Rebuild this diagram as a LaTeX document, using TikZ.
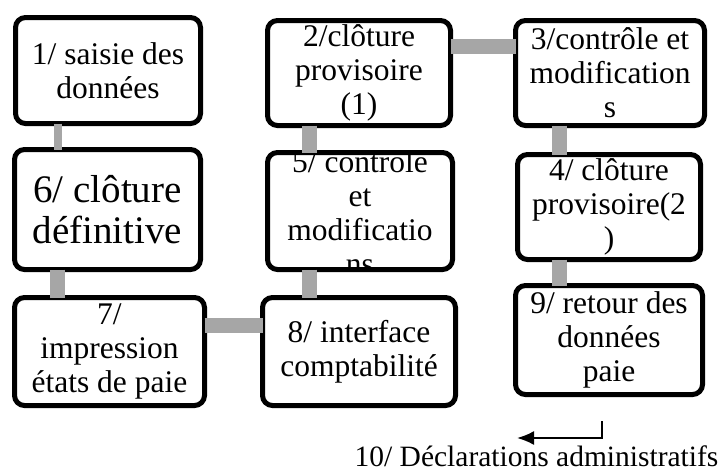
\documentclass[tikz,border=0pt]{standalone}
\usepackage{fontspec}
\setmainfont{Liberation Serif}
\usetikzlibrary{arrows.meta}
\definecolor{linkgray}{HTML}{A6A6A6}
\tikzset{
  stepbox/.style={draw=black, line width=5pt, rounded corners=10pt, fill=white,
    inner sep=0pt, outer sep=0pt, align=center,
    font=\fontsize{31.5}{34}\selectfont},
  link/.style={draw=linkgray, line width=15pt},
  thinlink/.style={draw=linkgray, line width=8pt},
  flow/.style={draw=black, line width=2pt, -{Latex[length=17pt,width=14pt]}},
}
% place a box from its corner coordinates (x1,y1) (x2,y2)
\newcommand\boxat[6]{%
  \node[stepbox, minimum width={#4-#2}, minimum height={#5-#3}, #6]
    (#1) at ({(#2+#4)/2},{(#3+#5)/2})}
\begin{document}
\begin{tikzpicture}[x=1pt, y=-1pt]
\useasboundingbox (0,0) rectangle (721,475);

% columns and rows used by the links
\coordinate (cA) at (57.5,0);
\coordinate (cB) at (309.5,0);
\coordinate (cC) at (559.5,0);
\coordinate (cR1) at (0,46.5);
\coordinate (cR3) at (0,325.5);

% boxes
\boxat{b1}{15.5}{17.5}{200.5}{123.5}{}{1/ saisie des\\données};
\boxat{b6}{14.5}{149.5}{200.5}{269.5}{font=\fontsize{39}{41}\selectfont}{6/ clôture\\définitive};
\boxat{b7}{14.5}{297.5}{204.5}{405.5}{}{7/\\impression\\états de paie};
\boxat{b2}{267.5}{20.5}{450.5}{125.5}{}{2/clôture\\provisoire\\(1)};
\boxat{b5}{267.5}{152.5}{452.5}{269.5}{path picture={
    \node[align=center, font=\fontsize{31.5}{34}\selectfont]
      at ([yshift=-2pt]path picture bounding box.center)
      {5/ contrôle\\et\\modificatio\\ns};}}{};
\boxat{b8}{262.5}{297.5}{455.5}{405.5}{}{8/ interface\\comptabilité};
\boxat{b3}{515.5}{20.5}{704.5}{125.5}{}{3/contrôle et\\modification\\s};
\boxat{b4}{517.5}{154.5}{700.5}{259.5}{}{4/ clôture\\provisoire(2\\)};
\boxat{b9}{515.5}{285.5}{702.5}{394.5}{}{9/ retour des\\données\\paie};

% links between boxes, stopping at the box borders
\draw[thinlink] (cA |- b1.south) -- (cA |- b6.north);
\draw[link] (cA |- b6.south) -- (cA |- b7.north);
\draw[link] (cB |- b2.south) -- (cB |- b5.north);
\draw[link] (cB |- b5.south) -- (cB |- b8.north);
\draw[link] (b7.east |- cR3) -- (b8.west |- cR3);
\draw[link] (b2.east |- cR1) -- (b3.west |- cR1);
\draw[link] (cC |- b3.south) -- (cC |- b4.north);
\draw[link] (cC |- b4.south) -- (cC |- b9.north);

% final step
\coordinate (f1) at (602,421);
\coordinate (f2) at (602,438);
\coordinate (f3) at (517,438);
\draw[flow] (f1) -- (f2) -- (f3);
\node[anchor=base, inner sep=0pt, font=\fontsize{29.5}{32}\selectfont]
  (b10) at (536.5,466) {10/ Déclarations administratifs};
\end{tikzpicture}
\end{document}
